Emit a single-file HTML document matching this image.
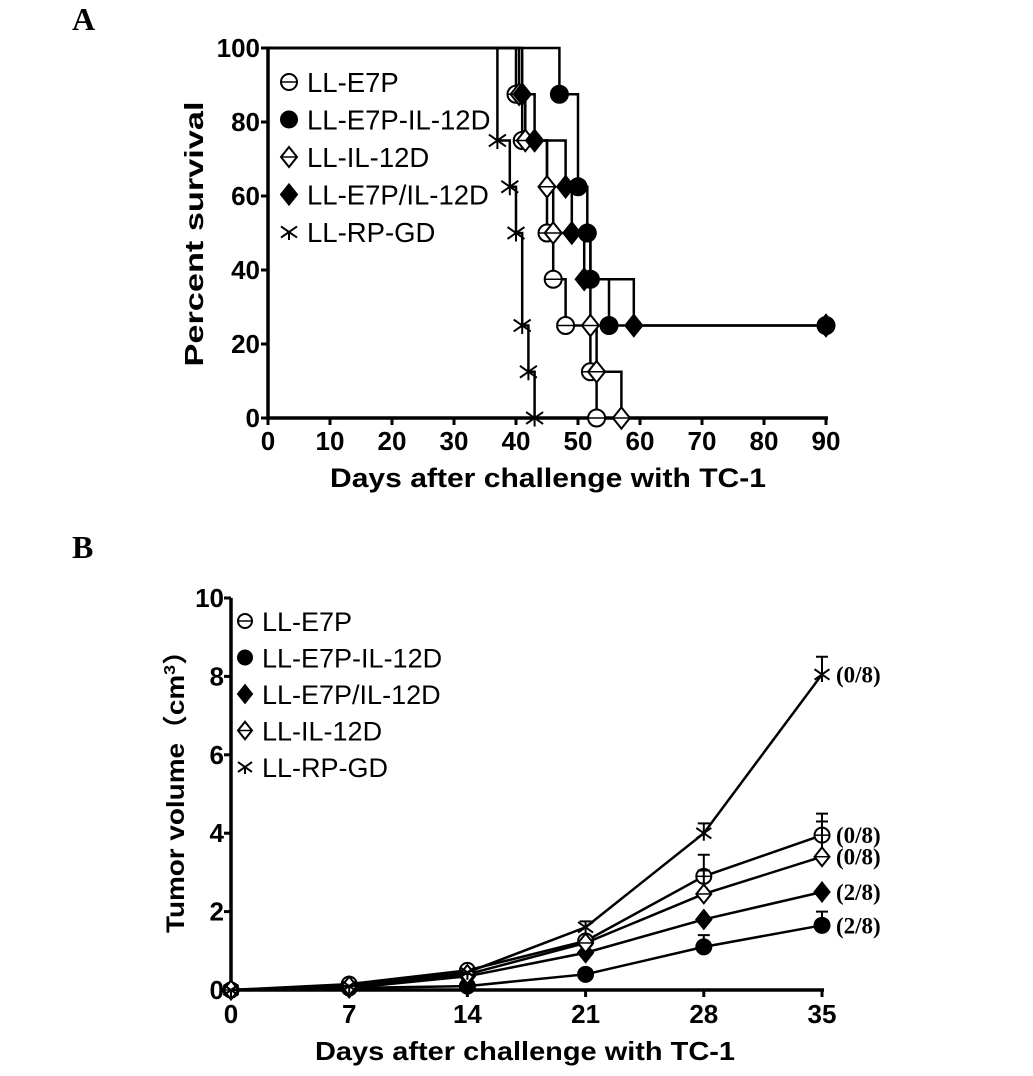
<!DOCTYPE html>
<html><head><meta charset="utf-8"><style>
body{margin:0;background:#fff}
svg{display:block;font-family:"Liberation Sans",Arial,sans-serif}
</style></head><body>
<svg id="c" width="1033" height="1076" viewBox="0 0 1033 1076" xmlns="http://www.w3.org/2000/svg">
<text x="72" y="30" font-family="Liberation Serif,serif" font-weight="bold" font-size="32">A</text>
<text x="72" y="558" font-family="Liberation Serif,serif" font-weight="bold" font-size="32">B</text>
<g id="ga"></g>
<g id="gb"></g>
</svg>
<script>
// Panel A data
const aXTicks=[0,10,20,30,40,50,60,70,80,90];
const aYTicks=[0,20,40,60,80,100];
const aNames=["LL-E7P","LL-E7P-IL-12D","LL-IL-12D","LL-E7P/IL-12D","LL-RP-GD"];
const aMarkers=["ocircle","fcircle","odiamond","fdiamond","star"];
const sE7P_t=[0,40,41,45,46,48,52,53];
const sE7P_v=[100,87.5,75,50,37.5,25,12.5,0];
const sE7PIL_t=[0,47,50,51.5,52,55,90];
const sE7PIL_v=[100,87.5,62.5,50,37.5,25,25];
const sIL_t=[0,40.5,41.5,45,46,52,53,57];
const sIL_v=[100,87.5,75,62.5,50,25,12.5,0];
const sMix_t=[0,41,43,48,49,51,59,90];
const sMix_v=[100,87.5,75,62.5,50,37.5,25,25];
const sRP_t=[0,37,39,40,41,42,43];
const sRP_v=[100,75,62.5,50,25,12.5,0];
// Panel B data
const bXTicks=[0,7,14,21,28,35];
const bYTicks=[0,2,4,6,8,10];
const bNames=["LL-E7P","LL-E7P-IL-12D","LL-E7P/IL-12D","LL-IL-12D","LL-RP-GD"];
const bMarkers=["ocircle","fcircle","fdiamond","odiamond","star"];
const bE7P=[0,0.15,0.5,1.25,2.9,3.95];
const bE7P_err=[0,0,0,0,0.55,0.55];
const bE7PIL=[0,0.05,0.1,0.4,1.1,1.65];
const bE7PIL_err=[0,0,0,0,0.3,0.35];
const bMix=[0,0.05,0.35,0.95,1.8,2.5];
const bMix_err=[0,0,0,0,0,0];
const bIL=[0,0.1,0.4,1.2,2.45,3.4];
const bIL_err=[0,0,0,0,0.6,0.9];
const bRP=[0,0.1,0.45,1.6,4.0,8.05];
const bRP_err=[0,0,0,0.15,0.25,0.45];
const bLabels=["(0/8)","(2/8)","(2/8)","(0/8)","(0/8)"];

const NS="http://www.w3.org/2000/svg";
function mk(p,tag,at){const e=document.createElementNS(NS,tag);for(const k in at)e.setAttribute(k,at[k]);p.appendChild(e);return e;}
function marker(g,type,x,y,r){
  let e;
  if(type==="ocircle"||type==="fcircle"){
    e=mk(g,"circle",{cx:x,cy:y,r:r,fill:type==="fcircle"?"#000":"#fff",stroke:"#000","stroke-width":2});
    if(type==="ocircle")mk(g,"line",{x1:x-r,y1:y,x2:x+r,y2:y,stroke:"#000","stroke-width":1.5});
  }else if(type==="odiamond"||type==="fdiamond"){
    const d=r*1.25;
    e=mk(g,"polygon",{points:`${x},${y-d} ${x+d*0.8},${y} ${x},${y+d} ${x-d*0.8},${y}`,fill:type==="fdiamond"?"#000":"#fff",stroke:"#000","stroke-width":2});
    if(type==="odiamond")mk(g,"line",{x1:x-d*0.8,y1:y,x2:x+d*0.8,y2:y,stroke:"#000","stroke-width":1.5});
  }else{
    e=mk(g,"path",{d:`M${x-r},${y-r*0.7}L${x+r},${y+r*0.7}M${x-r},${y+r*0.7}L${x+r},${y-r*0.7}M${x},${y}L${x},${y+r}`,stroke:"#000","stroke-width":2,fill:"none"});
  }
  return e;
}
// ---- Panel A ----
const ga=document.getElementById("ga");
const ax=v=>268+v*(558/90), ay=v=>418-v*3.7;
mk(ga,"line",{x1:ax(0),y1:ay(0),x2:ax(90)+2,y2:ay(0),stroke:"#000","stroke-width":3.5});
mk(ga,"line",{x1:ax(0),y1:ay(0)+2,x2:ax(0),y2:ay(100),stroke:"#000","stroke-width":3.5});
aXTicks.forEach(t=>{
  const l=mk(ga,"line",{x1:ax(t),y1:ay(0),x2:ax(t),y2:ay(0)+7,stroke:"#000","stroke-width":3});
  
  
  const tx=mk(ga,"text",{x:ax(t),y:450,"text-anchor":"middle","font-size":26,"font-weight":"bold"});tx.textContent=t;
  
  
});
aYTicks.forEach(t=>{
  mk(ga,"line",{x1:ax(0)-7,y1:ay(t),x2:ax(0),y2:ay(t),stroke:"#000","stroke-width":3});
  const tx=mk(ga,"text",{x:260,y:ay(t)+9,"text-anchor":"end","font-size":26,"font-weight":"bold"});tx.textContent=t;
  
  
});
let t1=mk(ga,"text",{x:330,y:487,"font-size":27,"font-weight":"bold",textLength:436,lengthAdjust:"spacingAndGlyphs"});t1.textContent="Days after challenge with TC-1";

let t2=mk(ga,"text",{x:0,y:0,transform:"translate(203,234) rotate(-90)","text-anchor":"middle","font-size":26,"font-weight":"bold",textLength:265,lengthAdjust:"spacingAndGlyphs"});t2.textContent="Percent survival";

const aSeries=[[sE7P_t,sE7P_v],[sE7PIL_t,sE7PIL_v],[sIL_t,sIL_v],[sMix_t,sMix_v],[sRP_t,sRP_v]];
aSeries.forEach((s,i)=>{
  const [ts,vs]=s;let d=`M${ax(ts[0])},${ay(vs[0])}`;
  for(let k=1;k<ts.length;k++){d+=`L${ax(ts[k])},${ay(vs[k-1])}L${ax(ts[k])},${ay(vs[k])}`;}
  const p=mk(ga,"path",{d:d,fill:"none",stroke:"#000","stroke-width":2.5});
  
  
  for(let k=1;k<ts.length;k++){
    const m=marker(ga,aMarkers[i],ax(ts[k]),ay(vs[k]),8.5);
    
    
  }
});
aNames.forEach((n,i)=>{
  const y=82+i*37.5;
  marker(ga,aMarkers[i],289,y,8);
  const tx=mk(ga,"text",{x:307,y:y+10,"font-size":27.5});tx.textContent=n;
  
  
});
// ---- Panel B ----
const gb=document.getElementById("gb");
const bx=v=>231+v*(591/35), by=v=>990-v*39.2;
mk(gb,"line",{x1:bx(0),y1:by(0),x2:bx(35)+2,y2:by(0),stroke:"#000","stroke-width":3.5});
mk(gb,"line",{x1:bx(0),y1:by(0)+2,x2:bx(0),y2:by(10),stroke:"#000","stroke-width":3.5});
bXTicks.forEach(t=>{
  mk(gb,"line",{x1:bx(t),y1:by(0),x2:bx(t),y2:by(0)+7,stroke:"#000","stroke-width":3});
  const tx=mk(gb,"text",{x:bx(t),y:1023,"text-anchor":"middle","font-size":26,"font-weight":"bold"});tx.textContent=t;
  
  
});
bYTicks.forEach(t=>{
  mk(gb,"line",{x1:bx(0)-7,y1:by(t),x2:bx(0),y2:by(t),stroke:"#000","stroke-width":3});
  const tx=mk(gb,"text",{x:224,y:by(t)+9,"text-anchor":"end","font-size":26,"font-weight":"bold"});tx.textContent=t;
  
  
});
let t3=mk(gb,"text",{x:315,y:1060,"font-size":26,"font-weight":"bold",textLength:420,lengthAdjust:"spacingAndGlyphs"});t3.textContent="Days after challenge with TC-1";

let t4=mk(gb,"text",{x:0,y:0,transform:"translate(184,785) rotate(-90)","text-anchor":"middle","font-size":25,"font-weight":"bold","font-family":"Liberation Sans,Noto Sans CJK SC,sans-serif",textLength:296,lengthAdjust:"spacingAndGlyphs"});
t4.innerHTML='Tumor volume（cm<tspan dy="-9" font-size="16">3</tspan><tspan dy="9">）</tspan>';

const bSeries=[[bE7P,bE7P_err],[bE7PIL,bE7PIL_err],[bMix,bMix_err],[bIL,bIL_err],[bRP,bRP_err]];
bSeries.forEach((s,i)=>{
  const [vs,es]=s;
  const pts=vs.map((v,k)=>`${bx(bXTicks[k])},${by(v)}`).join(" ");
  const p=mk(gb,"polyline",{points:pts,fill:"none",stroke:"#000","stroke-width":2.5});
  
  
  vs.forEach((v,k)=>{
    if(es[k]>0){
      mk(gb,"path",{d:`M${bx(bXTicks[k])},${by(v)}L${bx(bXTicks[k])},${by(v+es[k])}M${bx(bXTicks[k])-6},${by(v+es[k])}L${bx(bXTicks[k])+6},${by(v+es[k])}`,stroke:"#000","stroke-width":2,fill:"none"});
    }
    const m=marker(gb,bMarkers[i],bx(bXTicks[k]),by(v),7.5);
    
    
  });
  const lb=mk(gb,"text",{x:bx(35)+14,y:by(vs[vs.length-1])+8,"font-size":23,"font-weight":"bold","font-family":"Liberation Serif,serif"});
  lb.textContent=bLabels[i];
  
  
});
bNames.forEach((n,i)=>{
  const y=621+i*36.5;
  marker(gb,bMarkers[i],245,y,7);
  const tx=mk(gb,"text",{x:262,y:y+10,"font-size":27});tx.textContent=n;
  
  
});
</script>
</body></html>
